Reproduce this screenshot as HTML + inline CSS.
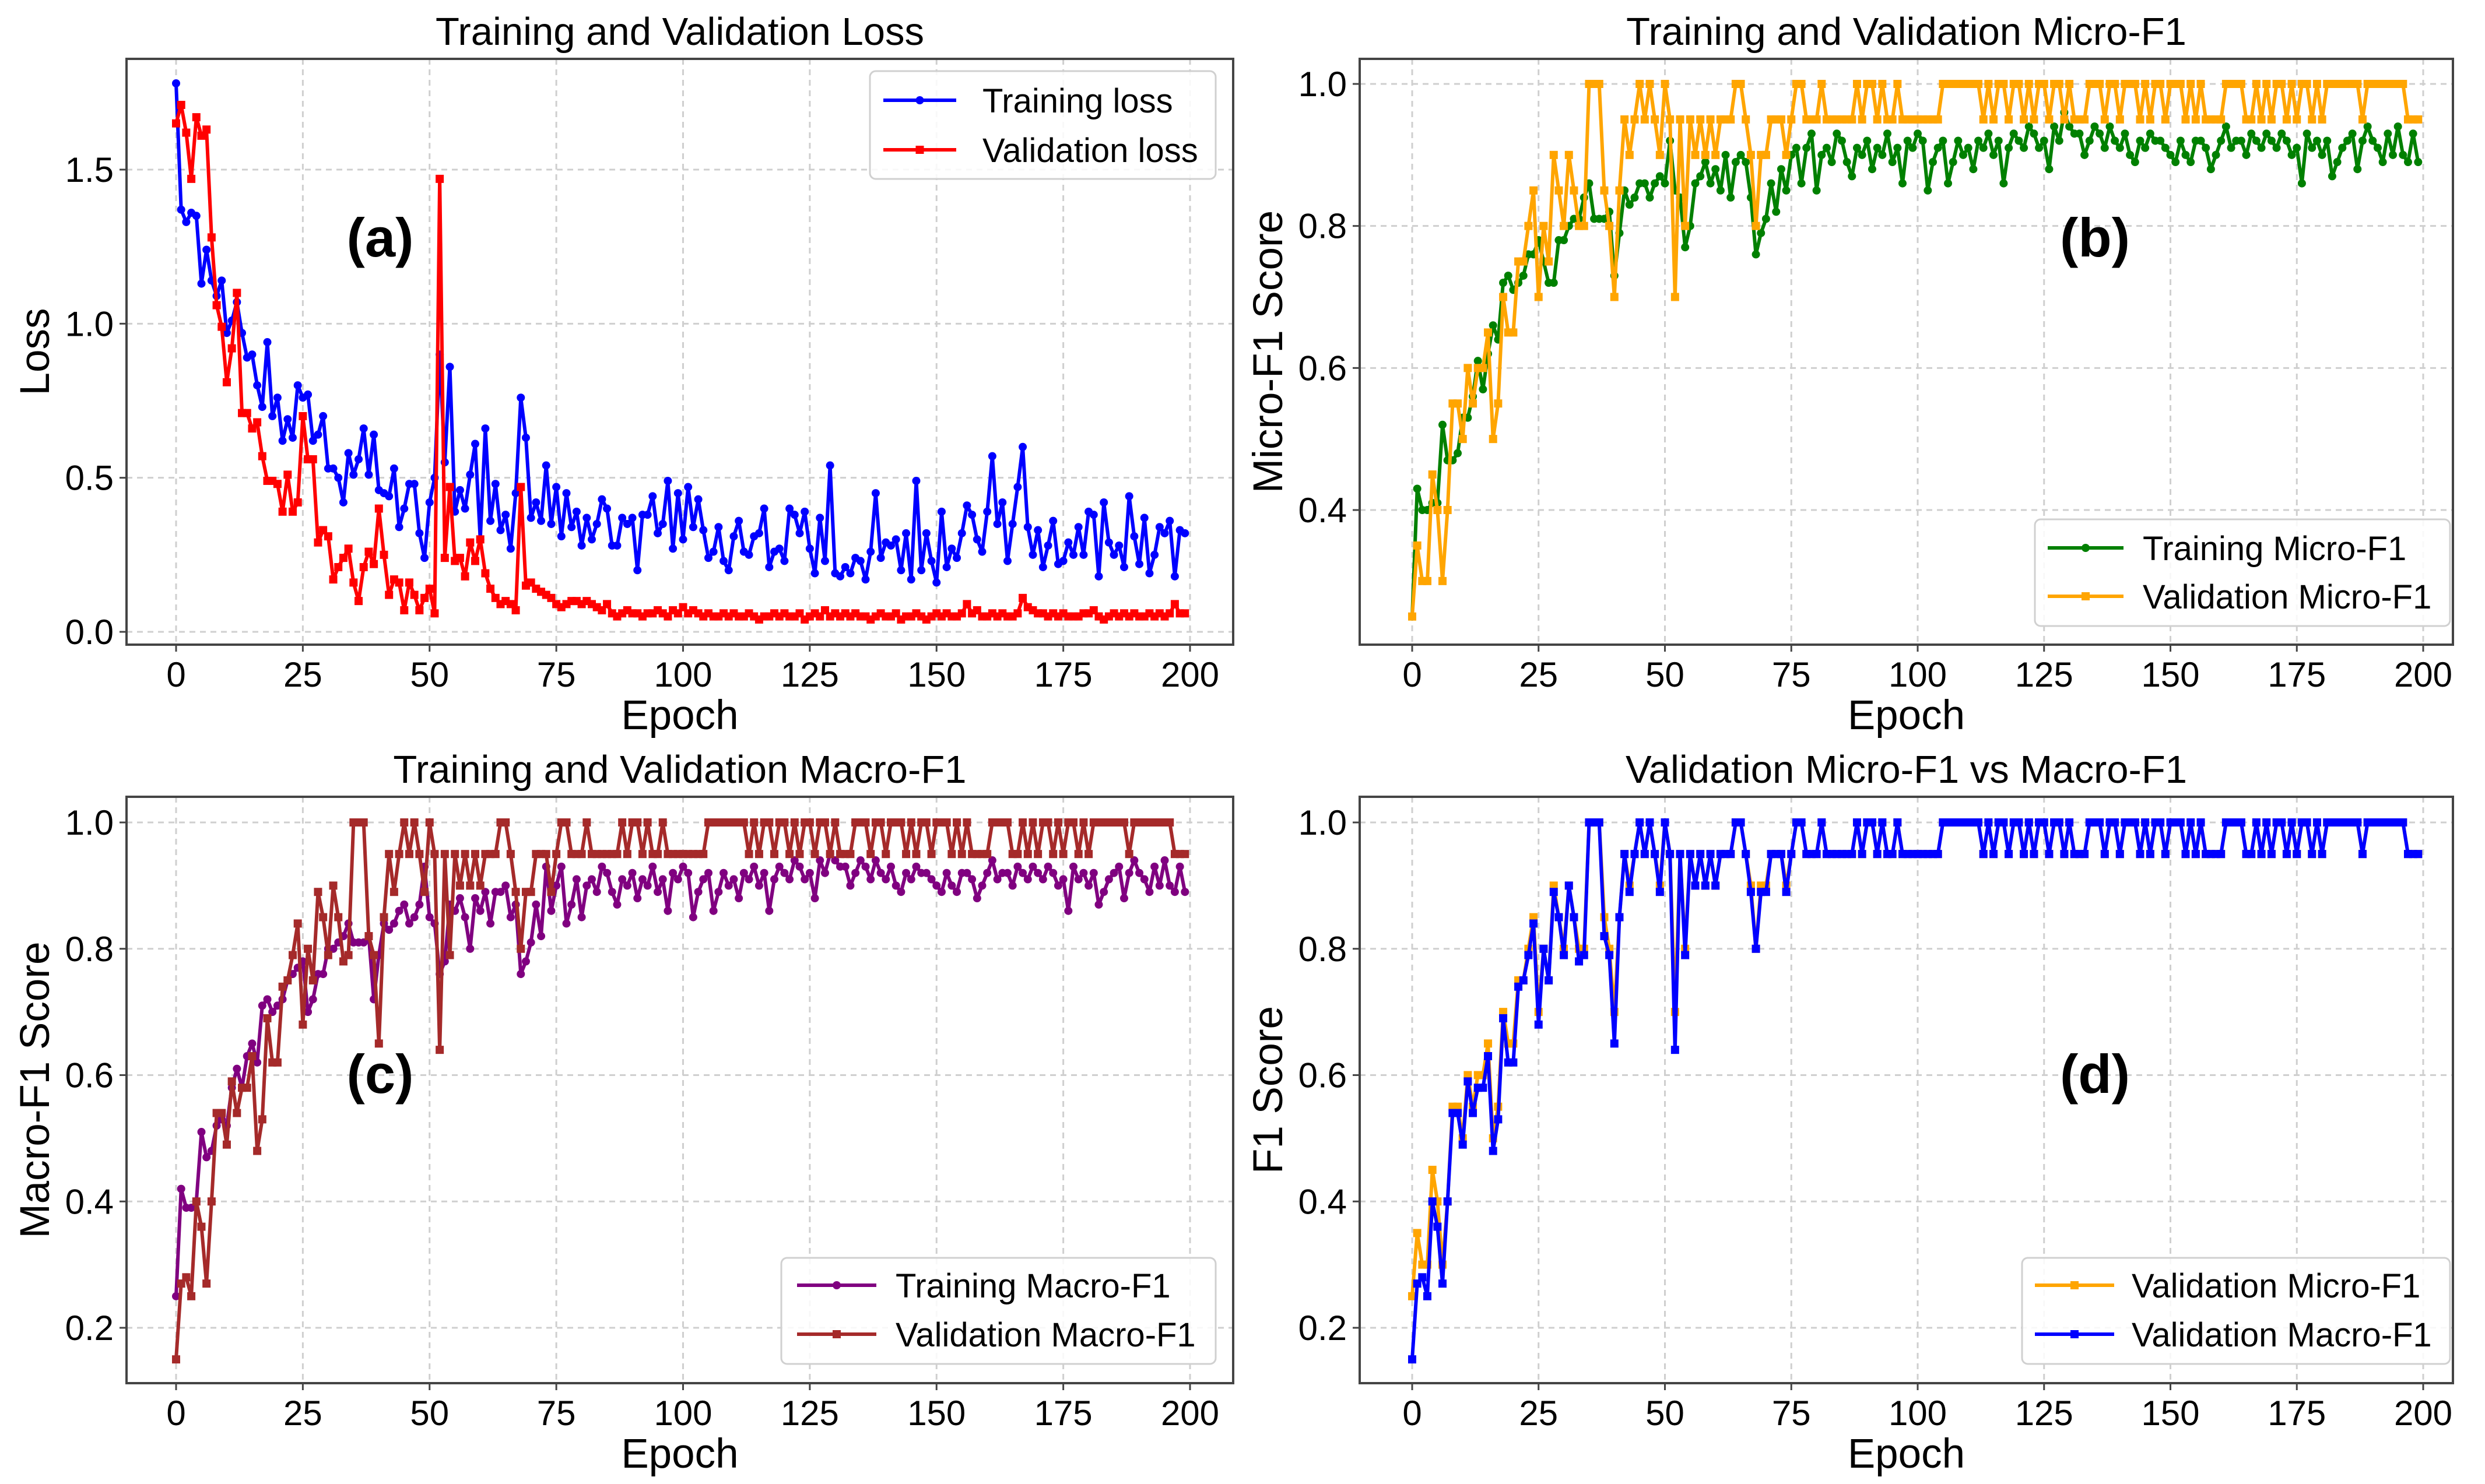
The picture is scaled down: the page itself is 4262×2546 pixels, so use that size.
<!DOCTYPE html>
<html><head><meta charset="utf-8"><style>
html,body{margin:0;padding:0;background:#fff;}
svg{display:block;font-family:"Liberation Sans",Arial,sans-serif;}
</style></head><body>
<svg id="fig" width="4262" height="2546" viewBox="0 0 4262 2546" xmlns="http://www.w3.org/2000/svg"></svg>
<script>
const epochs = Array.from({length:200},(_, i)=>i);
const xTicks = [0,25,50,75,100,125,150,175,200];
const lossTicks = [0.0,0.5,1.0,1.5];
const microTicks = [0.4,0.6,0.8,1.0];
const macroTicks = [0.2,0.4,0.6,0.8,1.0];

const trainLoss = [1.78,1.37,1.33,1.36,1.35,1.13,1.24,1.14,1.09,1.14,0.97,1.01,1.07,0.97,0.89,0.90,0.80,0.73,0.94,0.70,0.76,0.62,0.69,0.63,0.80,0.76,0.77,0.62,0.64,0.70,0.53,0.53,0.50,0.42,0.58,0.51,0.56,0.66,0.51,0.64,0.46,0.45,0.44,0.53,0.34,0.40,0.48,0.48,0.32,0.24,0.42,0.50,0.90,0.55,0.86,0.39,0.46,0.40,0.51,0.61,0.30,0.66,0.36,0.48,0.33,0.38,0.27,0.45,0.76,0.63,0.37,0.42,0.36,0.54,0.35,0.47,0.31,0.45,0.34,0.39,0.28,0.37,0.30,0.35,0.43,0.40,0.28,0.28,0.37,0.35,0.37,0.20,0.38,0.38,0.44,0.32,0.35,0.49,0.27,0.45,0.30,0.47,0.34,0.43,0.33,0.24,0.26,0.34,0.23,0.20,0.31,0.36,0.26,0.25,0.31,0.32,0.40,0.21,0.26,0.27,0.23,0.40,0.38,0.32,0.39,0.27,0.19,0.37,0.23,0.54,0.19,0.18,0.21,0.19,0.24,0.23,0.17,0.26,0.45,0.24,0.29,0.28,0.30,0.20,0.32,0.17,0.49,0.20,0.32,0.23,0.16,0.39,0.21,0.27,0.24,0.32,0.41,0.38,0.30,0.26,0.39,0.57,0.35,0.42,0.23,0.35,0.47,0.60,0.34,0.25,0.33,0.21,0.28,0.36,0.22,0.23,0.29,0.25,0.34,0.25,0.39,0.38,0.18,0.42,0.29,0.25,0.28,0.21,0.44,0.31,0.22,0.37,0.19,0.25,0.34,0.32,0.36,0.18,0.33,0.32];
const valLoss = [1.65,1.71,1.62,1.47,1.67,1.61,1.63,1.28,1.06,0.99,0.81,0.92,1.10,0.71,0.71,0.66,0.68,0.57,0.49,0.49,0.48,0.39,0.51,0.39,0.42,0.70,0.56,0.56,0.29,0.33,0.31,0.17,0.21,0.24,0.27,0.16,0.10,0.21,0.26,0.22,0.40,0.25,0.12,0.17,0.16,0.07,0.16,0.12,0.07,0.11,0.14,0.06,1.47,0.24,0.47,0.23,0.24,0.18,0.29,0.23,0.30,0.19,0.14,0.11,0.09,0.10,0.09,0.07,0.47,0.15,0.16,0.14,0.13,0.12,0.11,0.09,0.08,0.09,0.10,
0.10,0.09,0.10,0.09,0.08,0.07,0.09,0.06,0.05,0.06,
0.07,0.06,0.06,0.05,0.06,0.06,0.07,0.06,0.05,0.07,
0.06,0.08,0.06,0.07,0.06,0.05,0.06,0.05,0.05,0.06,
0.05,0.06,0.05,0.05,0.06,0.05,0.04,0.05,0.05,0.06,
0.05,0.06,0.05,0.05,0.06,0.04,0.05,0.06,0.05,0.07,
0.05,0.06,0.05,0.06,0.05,0.06,0.05,0.05,0.04,0.05,
0.06,0.05,0.05,0.06,0.04,0.05,0.05,0.06,0.05,0.04,
0.05,0.06,0.05,0.06,0.05,0.05,0.06,0.09,0.06,0.07,
0.05,0.05,0.06,0.05,0.06,0.05,0.05,0.06,0.11,0.08,
0.07,0.06,0.06,0.05,0.06,0.05,0.06,0.05,0.05,0.05,
0.06,0.06,0.07,0.05,0.04,0.05,0.06,0.05,0.06,0.05,
0.06,0.05,0.05,0.06,0.05,0.06,0.05,0.06,0.09,0.06,0.06];

const trainMicro = [0.25,0.43,0.40,0.40,0.41,0.41,0.52,0.47,0.47,0.48,0.53,0.53,0.56,0.61,0.57,0.62,0.66,0.64,0.72,0.73,0.71,0.72,0.73,0.76,0.76,0.78,0.75,0.72,0.72,0.78,0.78,0.80,0.81,0.81,0.84,0.86,0.81,0.81,0.81,0.82,0.73,0.79,0.85,0.83,0.84,0.86,0.86,0.84,0.86,0.87,0.86,0.92,0.85,0.84,0.77,0.80,0.86,0.87,0.89,0.86,0.88,0.85,0.90,0.84,0.89,0.90,0.89,0.84,0.76,0.79,0.81,0.86,0.82,0.88,0.85,0.90,0.91,0.86,0.91,0.93,
0.85,0.90,0.91,0.89,0.93,0.92,0.89,0.87,0.91,0.90,
0.92,0.88,0.91,0.90,0.93,0.89,0.91,0.86,0.92,0.91,
0.93,0.92,0.85,0.89,0.91,0.92,0.86,0.89,0.92,0.90,
0.91,0.88,0.92,0.91,0.93,0.90,0.92,0.86,0.91,0.93,
0.92,0.91,0.94,0.93,0.91,0.92,0.88,0.94,0.92,0.96,
0.94,0.93,0.93,0.90,0.92,0.94,0.93,0.91,0.94,0.92,
0.91,0.93,0.90,0.89,0.92,0.91,0.93,0.92,0.92,0.91,
0.90,0.89,0.92,0.90,0.89,0.92,0.92,0.91,0.88,0.90,
0.92,0.94,0.91,0.92,0.92,0.90,0.93,0.92,0.91,0.93,
0.92,0.91,0.93,0.92,0.90,0.91,0.86,0.93,0.91,0.92,
0.90,0.92,0.87,0.89,0.91,0.92,0.93,0.88,0.92,0.94,
0.92,0.91,0.89,0.93,0.90,0.94,0.90,0.89,0.93,0.89];

const valMicro = [0.25,0.35,0.30,0.30,0.45,0.40,0.30,0.40,0.55,0.55,0.50,0.60,0.55,0.60,0.60,0.65,0.50,0.55,0.70,0.65,0.65,0.75,0.75,0.80,0.85,0.70,0.80,0.75,0.90,0.85,0.80,0.90,0.85,0.80,0.80,1.0,1.0,1.0,0.85,0.80,0.70,0.85,0.95,0.90,0.95,1.0,0.95,1.0,0.95,0.90,1.0,0.95,0.70,0.95,0.80,0.95,0.90,0.95,0.90,0.95,0.90,0.95,0.95,0.95,1.0,1.0,0.95,0.90,0.80,0.90,0.90,0.95,0.95,0.95,0.90,0.95,1.0,1.0,0.95,
0.95,0.95,1,0.95,0.95,0.95,0.95,0.95,0.95,1,
0.95,1,1,0.95,1,0.95,0.95,1,0.95,0.95,
0.95,0.95,0.95,0.95,0.95,0.95,1,1,1,1,
1,1,1,1,0.95,1,0.95,1,1,0.95,
1,1,0.95,1,0.95,1,1,0.95,1,1,
0.95,1,0.95,0.95,0.95,1,1,1,0.95,1,
1,0.95,1,1,1,0.95,1,0.95,1,1,
0.95,1,1,1,0.95,1,0.95,1,0.95,0.95,
0.95,0.95,1,1,1,1,0.95,0.95,1,0.95,
1,0.95,1,1,0.95,1,0.95,1,1,0.95,
1,0.95,1,1,1,1,1,1,1,0.95,
1,1,1,1,1,1,1,1,0.95,0.95,0.95];

const trainMacro = [0.25,0.42,0.39,0.39,0.40,0.51,0.47,0.48,0.52,0.53,0.52,0.58,0.61,0.58,0.63,0.65,0.62,0.71,0.72,0.70,0.71,0.72,0.75,0.76,0.77,0.78,0.70,0.72,0.76,0.76,0.80,0.80,0.81,0.82,0.84,0.81,0.81,0.81,0.82,0.72,0.79,0.84,0.83,0.84,0.86,0.87,0.84,0.85,0.87,0.93,0.85,0.84,0.76,0.78,0.87,0.86,0.88,0.85,0.80,0.88,0.86,0.89,0.84,0.89,0.89,0.90,0.85,0.87,0.76,0.78,0.81,0.87,0.82,0.93,0.86,0.90,0.93,0.84,0.87,0.91,
0.85,0.90,0.91,0.89,0.93,0.92,0.89,0.87,0.91,0.90,
0.92,0.88,0.91,0.90,0.93,0.89,0.91,0.86,0.92,0.91,
0.93,0.92,0.85,0.89,0.91,0.92,0.86,0.89,0.92,0.90,
0.91,0.88,0.92,0.91,0.93,0.90,0.92,0.86,0.91,0.93,
0.92,0.91,0.94,0.93,0.91,0.92,0.88,0.94,0.92,0.95,
0.94,0.93,0.93,0.90,0.92,0.94,0.93,0.91,0.94,0.92,
0.91,0.93,0.90,0.89,0.92,0.91,0.93,0.92,0.92,0.91,
0.90,0.89,0.92,0.90,0.89,0.92,0.92,0.91,0.88,0.90,
0.92,0.94,0.91,0.92,0.92,0.90,0.93,0.92,0.91,0.93,
0.92,0.91,0.93,0.92,0.90,0.91,0.86,0.93,0.91,0.92,
0.90,0.92,0.87,0.89,0.91,0.92,0.93,0.88,0.92,0.94,
0.92,0.91,0.89,0.93,0.90,0.94,0.90,0.89,0.93,0.89];

const valMacro = [0.15,0.27,0.28,0.25,0.40,0.36,0.27,0.40,0.54,0.54,0.49,0.59,0.54,0.58,0.58,0.63,0.48,0.53,0.69,0.62,0.62,0.74,0.75,0.79,0.84,0.68,0.80,0.75,0.89,0.85,0.79,0.90,0.85,0.78,0.79,1.0,1.0,1.0,0.82,0.79,0.65,0.85,0.95,0.89,0.95,1.0,0.95,1.0,0.95,0.89,1.0,0.95,0.64,0.95,0.79,0.95,0.90,0.95,0.90,0.95,0.90,0.95,0.95,0.95,1.0,1.0,0.95,0.89,0.80,0.89,0.89,0.95,0.95,0.95,0.89,0.95,1.0,1.0,0.95,
0.95,0.95,1,0.95,0.95,0.95,0.95,0.95,0.95,1,
0.95,1,1,0.95,1,0.95,0.95,1,0.95,0.95,
0.95,0.95,0.95,0.95,0.95,0.95,1,1,1,1,
1,1,1,1,0.95,1,0.95,1,1,0.95,
1,1,0.95,1,0.95,1,1,0.95,1,1,
0.95,1,0.95,0.95,0.95,1,1,1,0.95,1,
1,0.95,1,1,1,0.95,1,0.95,1,1,
0.95,1,1,1,0.95,1,0.95,1,0.95,0.95,
0.95,0.95,1,1,1,1,0.95,0.95,1,0.95,
1,0.95,1,1,0.95,1,0.95,1,1,0.95,
1,0.95,1,1,1,1,1,1,1,0.95,
1,1,1,1,1,1,1,1,0.95,0.95,0.95];

const NS='http://www.w3.org/2000/svg';
const fig=document.getElementById('fig');
function mk(tag,attrs,parent){const e=document.createElementNS(NS,tag);for(const k in attrs)e.setAttribute(k,attrs[k]);(parent||fig).appendChild(e);return e;}

const panels=[
 {id:'a',box:[217,101,2115,1106],xr:[302,2041],yv:[0,1.5],yp:[1084,291],yt:lossTicks,fmt:1,title:'Training and Validation Loss',ylab:'Loss',ylx:60,lab:'(a)',labx:652,laby:408,
  series:[{d:trainLoss,c:'#0000ff',m:'o',n:'Training loss'},{d:valLoss,c:'#ff0000',m:'s',n:'Validation loss'}],
  leg:[1492,122,2085,307],legLine:[1515,1640],legText:1685,legRows:[172,257]},
 {id:'b',box:[2332,101,4207,1106],xr:[2422,4156],yv:[0.4,1.0],yp:[875,144],yt:microTicks,fmt:1,title:'Training and Validation Micro-F1',ylab:'Micro-F1 Score',ylx:2175,lab:'(b)',labx:3593,laby:408,
  series:[{d:trainMicro,c:'#008000',m:'o',n:'Training Micro-F1'},{d:valMicro,c:'#ffa500',m:'s',n:'Validation Micro-F1'}],
  leg:[3490,891,4202,1074],legLine:[3512,3642],legText:3675,legRows:[940,1023]},
 {id:'c',box:[217,1367,2115,2373],xr:[302,2041],yv:[0.2,1.0],yp:[2278,1411],yt:macroTicks,fmt:1,title:'Training and Validation Macro-F1',ylab:'Macro-F1 Score',ylx:60,lab:'(c)',labx:652,laby:1843,
  series:[{d:trainMacro,c:'#800080',m:'o',n:'Training Macro-F1'},{d:valMacro,c:'#a52a2a',m:'s',n:'Validation Macro-F1'}],
  leg:[1340,2158,2085,2340],legLine:[1367,1503],legText:1536,legRows:[2205,2289]},
 {id:'d',box:[2332,1367,4207,2373],xr:[2422,4156],yv:[0.2,1.0],yp:[2278,1411],yt:macroTicks,fmt:1,title:'Validation Micro-F1 vs Macro-F1',ylab:'F1 Score',ylx:2175,lab:'(d)',labx:3593,laby:1843,
  series:[{d:valMicro,c:'#ffa500',m:'s',n:'Validation Micro-F1'},{d:valMacro,c:'#0000ff',m:'s',n:'Validation Macro-F1'}],
  leg:[3468,2158,4202,2340],legLine:[3490,3626],legText:3656,legRows:[2205,2289]}
];

function marker(g,m,x,y,c){
  if(m==='o'){const e=mk('circle',{cx:x,cy:y,r:7,fill:c},g);}
  else{const e=mk('rect',{x:x-7,y:y-7,width:14,height:14,fill:c},g);}
}

panels.forEach(p=>{
  const [L,T,R,B]=p.box;
  const sx=v=>p.xr[0]+(v-0)/(200-0)*(p.xr[1]-p.xr[0]);
  const sy=v=>p.yp[0]+(v-p.yv[0])/(p.yv[1]-p.yv[0])*(p.yp[1]-p.yp[0]);
  const g=mk('g',{});
  
  
  xTicks.forEach(t=>{const l=mk('line',{x1:sx(t),x2:sx(t),y1:T,y2:B,stroke:'#cfcfcf','stroke-width':3,'stroke-dasharray':'10,8'},g);});
  p.yt.forEach(t=>{const l=mk('line',{x1:L,x2:R,y1:sy(t),y2:sy(t),stroke:'#cfcfcf','stroke-width':3,'stroke-dasharray':'10,8'},g);});
  p.series.forEach(s=>{
    const sg=mk('g',{},g);
    
    
    const pts=s.d.map((v,i)=>sx(epochs[i])+','+sy(v)).join(' ');
    const pl=mk('polyline',{points:pts,fill:'none',stroke:s.c,'stroke-width':6,'stroke-linejoin':'round'},sg);
    
    
    s.d.forEach((v,i)=>marker(sg,s.m,sx(epochs[i]),sy(v),s.c));
  });
  const fr=mk('rect',{x:L,y:T,width:R-L,height:B-T,fill:'none',stroke:'#444','stroke-width':4},g);
  
  
  xTicks.forEach(t=>{
    const k=mk('line',{x1:sx(t),x2:sx(t),y1:B,y2:B+12,stroke:'#444','stroke-width':3},g);
    
    
    const tx=mk('text',{x:sx(t),y:B+72,'font-size':60,'text-anchor':'middle',fill:'#000'},g);
    
    
    tx.textContent=t;
  });
  p.yt.forEach(t=>{
    const k=mk('line',{x1:L-12,x2:L,y1:sy(t),y2:sy(t),stroke:'#444','stroke-width':3},g);
    
    
    const tx=mk('text',{x:L-22,y:sy(t)+21,'font-size':60,'text-anchor':'end',fill:'#000'},g);
    
    
    tx.textContent=t.toFixed(p.fmt);
  });
  const ti=mk('text',{x:(L+R)/2,y:T-24,'font-size':67,'text-anchor':'middle',fill:'#000'},g);
  
  
  ti.textContent=p.title;
  const xl=mk('text',{x:(L+R)/2,y:B+145,'font-size':71,'text-anchor':'middle',fill:'#000'},g);
  
  
  xl.textContent='Epoch';
  const yc=(T+B)/2;
  const yl=mk('text',{x:p.ylx,y:yc,'font-size':71,'text-anchor':'middle',fill:'#000',transform:`rotate(-90 ${p.ylx} ${yc}) translate(0 24)`},g);
  
  
  yl.textContent=p.ylab;
  const pl=mk('text',{x:p.labx,y:p.laby+32,'font-size':94,'font-weight':'bold','text-anchor':'middle',fill:'#000'},g);
  
  
  pl.textContent=p.lab;
  const lg=mk('g',{},g);
  
  
  const lb=mk('rect',{x:p.leg[0],y:p.leg[1],width:p.leg[2]-p.leg[0],height:p.leg[3]-p.leg[1],rx:10,fill:'#fff','fill-opacity':0.85,stroke:'#d0d0d0','stroke-width':3},lg);
  
  
  p.series.forEach((s,i)=>{
    const y=p.legRows[i];
    const eg=mk('g',{},lg);
    
    
    mk('line',{x1:p.legLine[0],x2:p.legLine[1],y1:y,y2:y,stroke:s.c,'stroke-width':6},eg);
    marker(eg,s.m,(p.legLine[0]+p.legLine[1])/2,y,s.c);
    const t=mk('text',{x:p.legText,y:y+21,'font-size':58,fill:'#000'},eg);
    
    
    t.textContent=s.n;
  });
});
</script>
</body></html>
